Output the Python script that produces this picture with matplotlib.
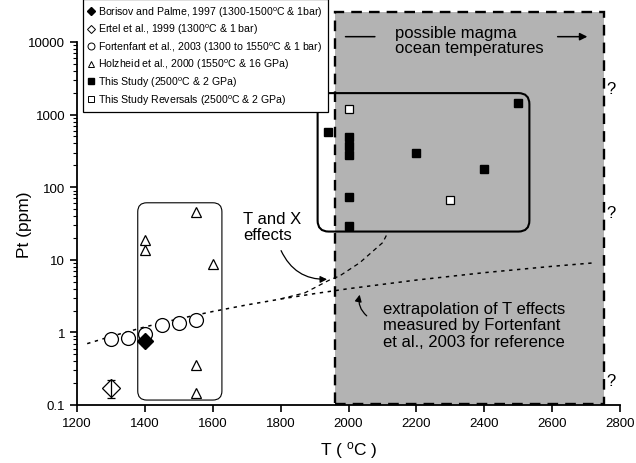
import matplotlib
matplotlib.use("Agg")
import matplotlib.pyplot as plt
from matplotlib.lines import Line2D
from matplotlib.patches import FancyBboxPatch, Rectangle
from matplotlib.ticker import FixedLocator, FuncFormatter

plt.rcParams["font.family"] = ["Liberation Sans", "DejaVu Sans"]
plt.rcParams["mathtext.fontset"] = "custom"
plt.rcParams["mathtext.rm"] = "Liberation Sans"
plt.rcParams["mathtext.it"] = "Liberation Sans:italic"

# --- data ---
fort_T = [1300, 1350, 1400, 1450, 1500, 1550]
fort_pt = [0.8, 0.85, 0.95, 1.25, 1.35, 1.5]

bor_T = [1400]
bor_pt = [0.75]
bor_err = [0.07]

ertel_T = [1300]
ertel_pt = [0.17]
ertel_err_lo = [0.047]
ertel_err_hi = [0.05]

holz_T = [1400, 1400, 1550, 1600, 1550, 1550]
holz_pt = [19, 13.5, 46, 8.8, 0.36, 0.145]

study_T = [1940, 2000, 2000, 2000, 2000, 2000, 2200, 2400, 2500]
study_pt = [577, 495, 370, 275, 73, 29, 300, 180, 1430]

rev_T = [2000, 2300]
rev_pt = [1180, 66]

# extrapolated Fortenfant trend (dotted) and T+X trend (dashed)
ext_T = [1230, 1300, 1400, 1500, 1600, 1700, 1800, 1900, 2000, 2200, 2400, 2600, 2725]
ext_pt = [0.70, 0.88, 1.19, 1.54, 1.94, 2.39, 2.88, 3.42, 4.0, 5.26, 6.65, 8.13, 9.09]
tx_T = [1800, 1871, 1945, 1974, 2033, 2101, 2116]
tx_pt = [2.9, 3.5, 5.3, 6.0, 9.1, 17.3, 23.8]

# regions
magma_T = (1961, 2752)
magma_pt = (0.1, 26000)
lit_box_T = (1379, 1627)
lit_box_pt = (0.117, 61)
study_box_T = (1909, 2533)
study_box_pt = (24.5, 1977)

legend_labels = [
    "Borisov and Palme, 1997 (1300-1500$^{\\mathrm{o}}$C & 1bar)",
    "Ertel et al., 1999 (1300$^{\\mathrm{o}}$C & 1 bar)",
    "Fortenfant et al., 2003 (1300 to 1550$^{\\mathrm{o}}$C & 1 bar)",
    "Holzheid et al., 2000 (1550$^{\\mathrm{o}}$C & 16 GPa)",
    "This Study (2500$^{\\mathrm{o}}$C & 2 GPa)",
    "This Study Reversals (2500$^{\\mathrm{o}}$C & 2 GPa)",
]
x_ticks = [1200, 1400, 1600, 1800, 2000, 2200, 2400, 2600, 2800]
y_ticks = [0.1, 1, 10, 100, 1000, 10000]

W, H = 636, 464
fig = plt.figure(figsize=(W / 100, H / 100), dpi=100)
ax = fig.add_axes([77 / W, 1 - 406 / H, (620 - 77) / W, (406 - 43) / H])
ax.set_yscale("log")
ax.set_xlim(1200, 2800)
ax.set_ylim(0.1, 10000)

# shaded magma-ocean region
ax.add_patch(Rectangle((magma_T[0], magma_pt[0]), magma_T[1] - magma_T[0],
                       magma_pt[1] - magma_pt[0], facecolor="#b3b3b3",
                       edgecolor="none", zorder=0.5, clip_on=False))
ax.add_patch(Rectangle((magma_T[0], magma_pt[0] * 1.03), magma_T[1] - magma_T[0],
                       magma_pt[1] - magma_pt[0] * 1.03, facecolor="none",
                       edgecolor="black", lw=1.7, linestyle=(0, (4.5, 3)),
                       zorder=1, clip_on=False))


def rounded_box(Ts, pts, radius, lw):
    # build the rounded box in inches so corners stay circular on a log axis
    to_in = ax.transData + fig.dpi_scale_trans.inverted()
    (x0, y0) = to_in.transform((Ts[0], pts[0]))
    (x1, y1) = to_in.transform((Ts[1], pts[1]))
    box = FancyBboxPatch((x0, y0), x1 - x0, y1 - y0,
                         boxstyle=f"round,pad=0,rounding_size={radius}",
                         transform=fig.dpi_scale_trans, facecolor="none",
                         edgecolor="black", lw=lw, zorder=1.5, clip_on=False)
    ax.add_patch(box)


rounded_box(lit_box_T, lit_box_pt, 0.09, 0.8)
rounded_box(study_box_T, study_box_pt, 0.11, 1.5)

# trend lines
ax.plot(ext_T, ext_pt, color="black", lw=1.1, linestyle=(0, (2.2, 3)), zorder=2)
ax.plot(tx_T, tx_pt, color="black", lw=0.9, linestyle=(0, (3.5, 3)), zorder=2)

# data
ax.plot(fort_T, fort_pt, "o", ms=10, mfc="white", mec="black", mew=0.9, zorder=3)
ax.errorbar(bor_T, bor_pt, yerr=[bor_err, bor_err], fmt="D", ms=8.5, mfc="black",
            mec="black", ecolor="black", elinewidth=0.9, capsize=3, zorder=4)
ax.errorbar(ertel_T, ertel_pt, yerr=[ertel_err_lo, ertel_err_hi], fmt="D", ms=9.5,
            mfc="none", mec="black", mew=0.9, ecolor="black", elinewidth=0.9,
            capsize=3, zorder=4)
ax.plot(holz_T, holz_pt, "^", ms=6.5, mfc="white", mec="black", mew=0.9, zorder=3)
ax.plot(study_T, study_pt, "s", ms=6.3, mfc="black", mec="black", zorder=3)
ax.plot(rev_T, rev_pt, "s", ms=6.3, mfc="white", mec="black", mew=0.9, zorder=3)

# annotations
ax.text(1689, 29, "T and X\neffects", fontsize=12, ha="left", va="center",
        linespacing=1.05)
ax.annotate("", xy=(1945, 5.4), xytext=(1798, 14.5),
            arrowprops=dict(arrowstyle="-|>", color="black", lw=0.9,
                            mutation_scale=10,
                            connectionstyle="arc3,rad=0.35"))
ax.text(2101, 1.27, "extrapolation of T effects\nmeasured by Fortenfant\net al., 2003 for reference",
        fontsize=12, ha="left", va="center", linespacing=1.15)
ax.annotate("", xy=(2035, 3.6), xytext=(2060, 1.6),
            arrowprops=dict(arrowstyle="-|>", color="black", lw=0.9,
                            mutation_scale=10,
                            connectionstyle="arc3,rad=-0.35"))
ax.text(2136, 10600, "possible magma\nocean temperatures", fontsize=12,
        ha="left", va="center", linespacing=1.05, clip_on=False)
ax.annotate("", xy=(1983, 11840), xytext=(2086, 11840), annotation_clip=False,
            arrowprops=dict(arrowstyle="-", color="black", lw=1.1))
ax.annotate("", xy=(2712, 11840), xytext=(2608, 11840), annotation_clip=False,
            arrowprops=dict(arrowstyle="-|>", color="black", lw=1.1,
                            mutation_scale=11))
for q in [2300, 44.9, 0.22]:
    ax.text(2760, q, "?", fontsize=12, ha="left", va="center", clip_on=False)

# axes styling
for s in ["top", "right"]:
    ax.spines[s].set_visible(False)
for s in ["left", "bottom"]:
    ax.spines[s].set_linewidth(1.3)
    ax.spines[s].set_zorder(5)
ax.xaxis.set_major_locator(FixedLocator(x_ticks))
ax.yaxis.set_major_locator(FixedLocator(y_ticks))
ax.yaxis.set_major_formatter(FuncFormatter(lambda v, p: f"{v:g}"))
ax.tick_params(axis="both", which="major", direction="out", length=5,
               width=1.2, labelsize=9.5)
ax.tick_params(axis="y", which="minor", direction="out", length=3, width=0.8)
ax.set_xlabel("T ( $^{\\mathrm{o}}$C )", fontsize=12.5, labelpad=7)
ax.set_ylabel("Pt (ppm)", fontsize=12.5)
ax.yaxis.set_label_coords(-0.083, 0.5)

# legend
handles = [
    Line2D([], [], ls="none", marker="D", ms=4, mfc="black", mec="black"),
    Line2D([], [], ls="none", marker="D", ms=4, mfc="white", mec="black", mew=0.7),
    Line2D([], [], ls="none", marker="o", ms=5, mfc="white", mec="black", mew=0.7),
    Line2D([], [], ls="none", marker="^", ms=5, mfc="white", mec="black", mew=0.7),
    Line2D([], [], ls="none", marker="s", ms=5, mfc="black", mec="black"),
    Line2D([], [], ls="none", marker="s", ms=5, mfc="white", mec="black", mew=0.7),
]
leg = ax.legend(handles, legend_labels, loc="upper left",
                bbox_to_anchor=(83 / W, 1.0), bbox_transform=fig.transFigure,
                fontsize=7.6, frameon=True, fancybox=False, framealpha=1,
                edgecolor="black", handlelength=0.6, handletextpad=0.35,
                labelspacing=0.3, borderpad=0.5, borderaxespad=0)
leg.get_frame().set_linewidth(0.9)
leg.set_zorder(6)

fig.savefig("out.png", dpi=100)
